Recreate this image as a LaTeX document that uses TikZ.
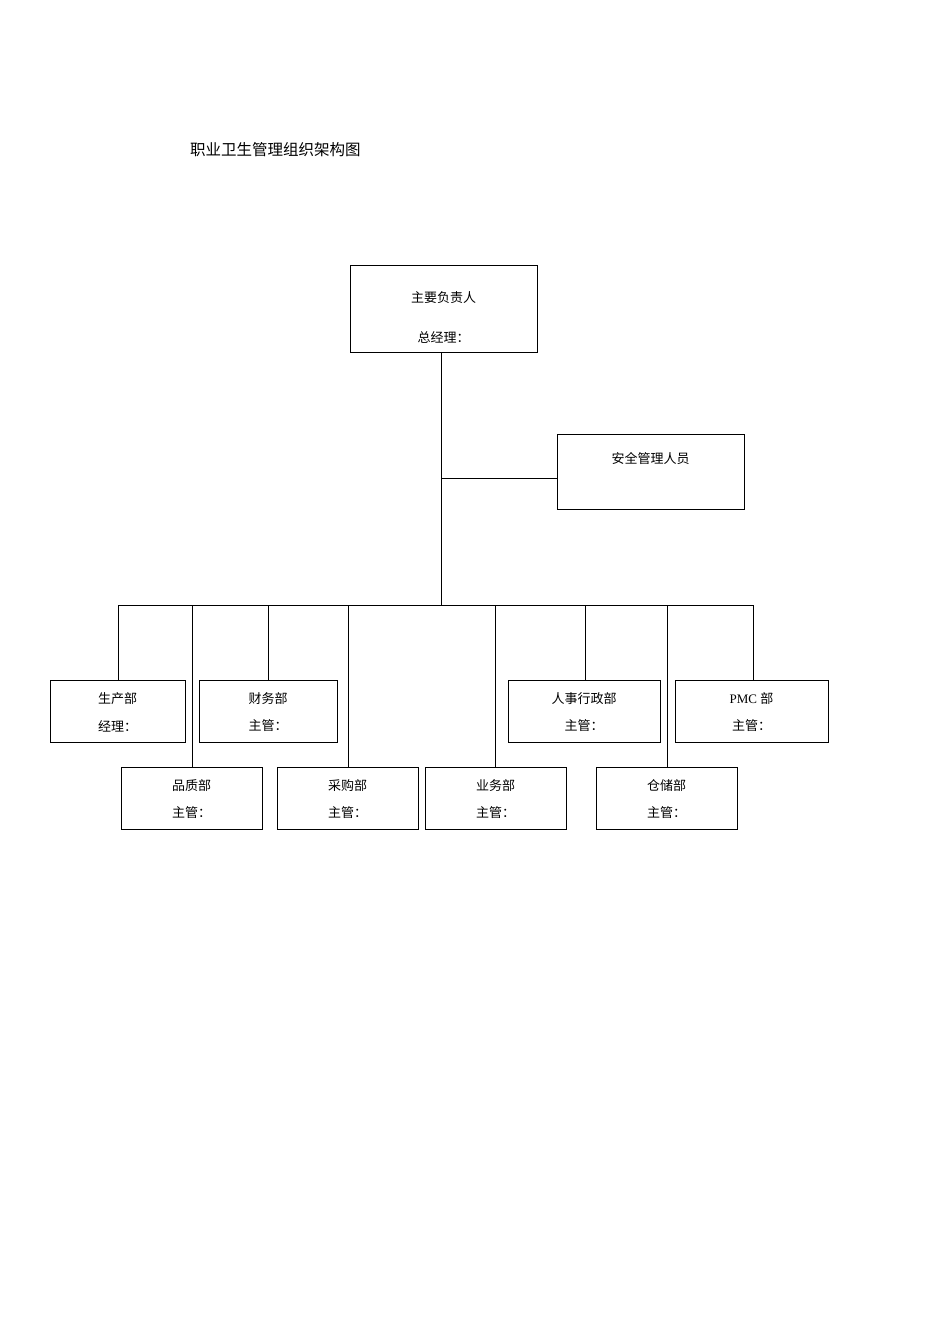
\documentclass[tikz,border=0pt]{standalone}
\usepackage{fontspec}
\setmainfont{Liberation Serif}
\newfontfamily\cjk{Noto Sans CJK SC}
\begin{document}
\begin{tikzpicture}[x=1pt,y=-1pt,
  bx/.style={draw,line width=0.8pt,inner sep=0pt},
  ln/.style={line width=0.8pt},
  tx/.style={font=\cjk\fontsize{13}{15}\selectfont,inner sep=0pt,anchor=center}]
\useasboundingbox (0,0) rectangle (950,1344);
\node[tx,font=\cjk\fontsize{15.5}{18}\selectfont,anchor=west] (title) at (190,150) {职业卫生管理组织架构图};
\node[bx,minimum width=187pt,minimum height=87pt] (top) at (443.5,308.5) {};
\node[tx] (t1) at (443.5,298) {主要负责人};
\node[tx] (t2) at (443.5,337) {总经理：};
\node[bx,minimum width=187pt,minimum height=75pt] (safe) at (650.5,471.5) {};
\node[tx] (s1) at (650.5,459) {安全管理人员};
\coordinate (v1) at (441,352);
\coordinate (v2) at (441,605);
\coordinate (b1) at (441,478);
\draw[ln] (v1) -- (v2);
\draw[ln] (b1) -- (safe.west|-b1);
\coordinate (hl) at (118,605);
\coordinate (hr) at (753,605);
\draw[ln] (hl) -- (hr);
% upper boxes
\foreach \n/\x/\w/\dx/\a/\b in {sc/117.5/135/118/生产部/经理：, cw/268/138/268/财务部/主管：, rs/584/152/585/人事行政部/主管：}{
  \node[bx,minimum width=\w pt,minimum height=62pt] (\n) at (\x,711) {};
  \node[tx] at (\x,699) {\a};
  \node[tx] at (\x,726) {\b};
  \draw[ln] (\dx,605) -- (\n.north-|{\dx,0});
}
\node[bx,minimum width=153pt,minimum height=62pt] (pmc) at (751.5,711) {};
\node[tx] at (751.5,699) {\fontsize{13}{15}\selectfont\rmfamily PMC \cjk 部};
\node[tx] at (751.5,726) {主管：};
\draw[ln] (753,605) -- (pmc.north-|{753,0});
% lower boxes
\foreach \n/\x/\dx/\a in {pz/191.5/192/品质部, cg/347.5/348/采购部, yw/495.5/495/业务部, cc/666.5/667/仓储部}{
  \node[bx,minimum width=141pt,minimum height=62pt] (\n) at (\x,798) {};
  \node[tx] at (\x,786) {\a};
  \node[tx] at (\x,813) {主管：};
  \draw[ln] (\dx,605) -- (\n.north-|{\dx,0});
}
\end{tikzpicture}
\end{document}
